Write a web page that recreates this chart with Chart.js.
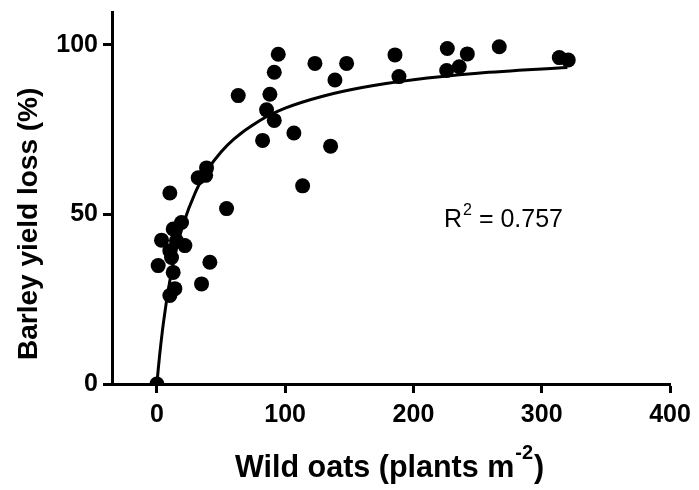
<!DOCTYPE html>
<html>
<head>
<meta charset="utf-8">
<script src="https://cdn.jsdelivr.net/npm/chart.js@4/dist/chart.umd.min.js"></script>
<style>
html,body{margin:0;padding:0;background:#fff;}
canvas{display:block;}
</style>
</head>
<body>
<canvas id="c" width="699" height="490"></canvas>
<script>
// Observed data: wild oat density (plants m-2) vs barley yield loss (%)
const obsX = [0, 1, 3.6, 10.1, 10.1, 11.4, 12.7, 15.3, 19.2, 21.8, 12.7, 14, 10.1, 34.8, 41.3, 32.2, 38, 38.7, 54.3, 63.4, 82.4, 85.5, 88.1, 91.5, 91.5, 94.6, 106.8, 113.6, 123.2, 135.4, 138.8, 147.9, 185.6, 188.7, 225.9, 226.4, 235.7, 242, 266.9, 313.7, 320.7];
const obsY = [0, 34.9, 42.4, 56.3, 39.3, 37.3, 45.7, 42.2, 47.6, 40.8, 32.9, 28.1, 26.1, 29.5, 35.9, 60.8, 61.5, 63.7, 51.7, 85, 71.8, 80.8, 85.4, 77.7, 91.9, 97.2, 74, 58.4, 94.5, 70.1, 89.6, 94.5, 97, 90.6, 92.4, 98.9, 93.5, 97.3, 99.4, 96.2, 95.5];
// Fitted curve, values
const fitX = [0, 1, 2, 5, 10, 15, 20, 30, 40, 50, 60, 80, 100, 130, 160, 200, 250, 320];
const fitY = [0, 4.2, 8.0, 17.8, 30.2, 39.5, 46.5, 56.5, 63.4, 68.4, 72.2, 77.6, 81.3, 84.9, 87.4, 89.7, 91.6, 93.3];
const xTicks = [0, 100, 200, 300, 400];
const yTicks = [0, 50, 100];
const xTitle = "Wild oats (plants m";
const xTitleSup = "-2";
const xTitleEnd = ")";
const yTitle = "Barley yield loss (%)";
const r2Label = "R";
const r2Sup = "2";
const r2Value = " = 0.757";

const FONT = '"Liberation Sans", Arial, sans-serif';

const titlePlugin = {
  id: 'titles',
  afterDraw(chart) {
    const ctx = chart.ctx;
    ctx.save();
    ctx.fillStyle = '#000';
    ctx.textBaseline = 'alphabetic';
    ctx.textAlign = 'left';
    // x title
    ctx.font = 'bold 30.5px ' + FONT;
    let x = 235, base = 477;
    ctx.fillText(xTitle, x, base);
    x += ctx.measureText(xTitle).width + 1;
    ctx.font = 'bold 20px ' + FONT;
    ctx.fillText(xTitleSup, x, base - 18);
    x += ctx.measureText(xTitleSup).width + 1;
    ctx.font = 'bold 30.5px ' + FONT;
    ctx.fillText(xTitleEnd, x, base);
    // y title
    ctx.save();
    ctx.translate(37, 360);
    ctx.rotate(-Math.PI / 2);
    ctx.font = 'bold 28px ' + FONT;
    ctx.fillText(yTitle, 0, 0);
    ctx.restore();
    // R^2 label
    ctx.font = '25px ' + FONT;
    x = 444; base = 227;
    ctx.fillText(r2Label, x, base);
    x += ctx.measureText(r2Label).width + 1;
    ctx.font = '16px ' + FONT;
    ctx.fillText(r2Sup, x, base - 12);
    x += ctx.measureText(r2Sup).width;
    ctx.font = '25px ' + FONT;
    ctx.fillText(r2Value, x, base);
    ctx.restore();
  }
};

new Chart(document.getElementById('c'), {
  type: 'scatter',
  data: {
    datasets: [
      {
        data: fitX.map((v, i) => ({x: v, y: fitY[i]})),
        showLine: true,
        borderColor: '#000',
        borderWidth: 3,
        pointRadius: 0,
        cubicInterpolationMode: 'monotone',
        fill: false,
        order: 2
      },
      {
        data: obsX.map((v, i) => ({x: v, y: obsY[i]})),
        showLine: false,
        backgroundColor: '#000',
        borderColor: '#000',
        borderWidth: 0,
        pointRadius: 7.5,
        order: 1
      }
    ]
  },
  options: {
    responsive: false,
    animation: false,
    layout: {padding: {left: 0, right: 29, top: 10, bottom: 0}},
    plugins: {legend: {display: false}, tooltip: {enabled: false}},
    scales: {
      x: {
        type: 'linear',
        min: -35,
        max: 400,
        afterBuildTicks(s) { s.ticks = xTicks.map(v => ({value: v})); },
        afterFit(s) { s.height = 106; },
        border: {display: true, color: '#000', width: 3},
        grid: {display: true, drawOnChartArea: false, drawTicks: true, tickLength: 9, tickWidth: 3, tickColor: '#000', color: '#000'},
        ticks: {color: '#000', padding: 7, font: {family: FONT, size: 25, weight: 'bold'}, maxRotation: 0}
      },
      y: {
        type: 'linear',
        min: 0,
        max: 109.5,
        afterBuildTicks(s) { s.ticks = yTicks.map(v => ({value: v})); },
        afterFit(s) { s.width = 112; },
        border: {display: true, color: '#000', width: 3},
        grid: {display: true, drawOnChartArea: false, drawTicks: true, tickLength: 9, tickWidth: 3, tickColor: '#000', color: '#000'},
        ticks: {color: '#000', padding: 5, font: {family: FONT, size: 25, weight: 'bold', lineHeight: 0.6}}
      }
    }
  },
  plugins: [titlePlugin]
});
</script>
</body>
</html>
